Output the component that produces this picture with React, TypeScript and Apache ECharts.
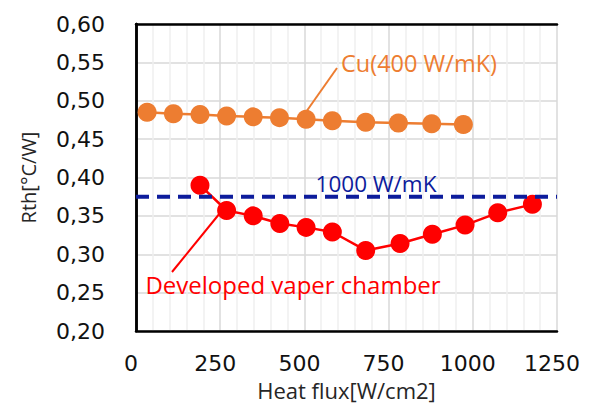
import React, { useEffect, useRef } from "react";
import * as echarts from "echarts";

const cuFlux = [33, 111, 190, 269, 348, 426, 505, 583, 682, 779, 878, 972];
const cuRth = [0.485, 0.483, 0.482, 0.48, 0.479, 0.478, 0.476, 0.474, 0.472, 0.471, 0.47, 0.469];
const vcFlux = [190, 269, 348, 427, 505, 583, 682, 784, 880, 977, 1074, 1177];
const vcRth = [0.39, 0.357, 0.35, 0.34, 0.335, 0.329, 0.305, 0.314, 0.326, 0.338, 0.354, 0.365];
const refFlux = [0, 1250];
const refRth = 0.375;
const xTicks = [0, 250, 500, 750, 1000, 1250];
const yTicks = [0.2, 0.25, 0.3, 0.35, 0.4, 0.45, 0.5, 0.55, 0.6];

const annoFont = "'Open Sans', 'Noto Sans', sans-serif";
const tickFont = "'DejaVu Sans', sans-serif";

const frameAxis = {
  axisLine: { show: true, lineStyle: { color: "#000000", width: 2.5 } },
  axisTick: { show: false },
  axisLabel: { show: false },
  splitLine: { show: false },
};

export default function App() {
  const ref = useRef<HTMLDivElement>(null);
  useEffect(() => {
    if (!ref.current) return;
    const chart = echarts.init(ref.current, undefined, { renderer: "svg" });
    chart.setOption({
      animation: false,
      backgroundColor: "#ffffff",
      grid: { left: 136, right: 41, top: 24, bottom: 80 },
      xAxis: [
        {
          type: "value",
          min: xTicks[0],
          max: xTicks[xTicks.length - 1],
          interval: 250,
          name: "Heat flux[W/cm2]",
          nameLocation: "middle",
          nameGap: 47,
          nameTextStyle: { fontFamily: annoFont, fontSize: 22, color: "#262626" },
          axisLine: { show: true, onZero: false, lineStyle: { color: "#000000", width: 2.5 } },
          axisTick: { show: false },
          axisLabel: {
            fontFamily: tickFont,
            fontSize: 22,
            color: "#111111",
            margin: 21,
            padding: [0, 10, 0, 0],
            formatter: (v: number) => String(v),
          },
          splitLine: { show: true, lineStyle: { color: "#d9d9d9", width: 1.5 } },
          minorTick: { show: false, splitNumber: 5 },
          minorSplitLine: { show: true, lineStyle: { color: "#efefef", width: 1.5 } },
        },
        {
          type: "value",
          position: "top",
          min: xTicks[0],
          max: xTicks[xTicks.length - 1],
          ...frameAxis,
        },
      ],
      yAxis: [
        {
          type: "value",
          min: yTicks[0],
          max: yTicks[yTicks.length - 1],
          interval: 0.05,
          name: "Rth[°C/W]",
          nameLocation: "middle",
          nameGap: 98,
          nameRotate: 90,
          nameTextStyle: { fontFamily: annoFont, fontSize: 20, color: "#262626" },
          axisLine: { show: true, onZero: false, lineStyle: { color: "#000000", width: 2.5 } },
          axisTick: { show: false },
          axisLabel: {
            fontFamily: tickFont,
            fontSize: 22,
            color: "#111111",
            margin: 31,
            formatter: (v: number) => v.toFixed(2).replace(".", ","),
          },
          splitLine: { show: true, lineStyle: { color: "#d9d9d9", width: 1.5 } },
        },
        {
          type: "value",
          position: "right",
          min: yTicks[0],
          max: yTicks[yTicks.length - 1],
          ...frameAxis,
        },
      ],
      series: [
        {
          name: "Cu(400 W/mK)",
          type: "line",
          data: cuFlux.map((x, i) => [x, cuRth[i]]),
          symbol: "circle",
          symbolSize: 19,
          itemStyle: { color: "#ed7d31" },
          lineStyle: { color: "#ed7d31", width: 2.5 },
          z: 3,
        },
        {
          name: "Developed vaper chamber",
          type: "line",
          data: vcFlux.map((x, i) => [x, vcRth[i]]),
          symbol: "circle",
          symbolSize: 19,
          itemStyle: { color: "#ff0000" },
          lineStyle: { color: "#ff0000", width: 2.5 },
          z: 3,
        },
        {
          name: "1000 W/mK",
          type: "line",
          data: refFlux.map((x) => [x, refRth]),
          symbol: "none",
          lineStyle: { color: "#0d1c9c", width: 4, type: [13, 8] },
          z: 4,
        },
      ],
      graphic: [
        {
          type: "text",
          z: 100,
          x: 376,
          y: 183,
          style: {
            text: "1000 W/mK",
            fill: "#0d1c9c",
            font: `22.5px ${annoFont}`,
            align: "center",
            verticalAlign: "middle",
          },
        },
        {
          type: "text",
          z: 100,
          x: 419,
          y: 63,
          style: {
            text: "Cu(400 W/mK)",
            fill: "#ed7d31",
            font: `23.5px ${annoFont}`,
            align: "center",
            verticalAlign: "middle",
          },
        },
        {
          type: "line",
          z: 100,
          shape: { x1: 337, y1: 68, x2: 306, y2: 112 },
          style: { stroke: "#ed7d31", lineWidth: 2 },
        },
        {
          type: "text",
          z: 100,
          x: 293,
          y: 284,
          style: {
            text: "Developed vaper chamber",
            fill: "#ff0000",
            font: `24px ${annoFont}`,
            align: "center",
            verticalAlign: "middle",
          },
        },
        {
          type: "line",
          z: 100,
          shape: { x1: 172, y1: 272, x2: 220, y2: 213 },
          style: { stroke: "#ff0000", lineWidth: 2 },
        },
      ],
    });
    return () => chart.dispose();
  }, []);
  return (
    <div
      ref={ref}
      style={{ position: "fixed", left: 0, top: 0, width: 598, height: 411 }}
    />
  );
}
